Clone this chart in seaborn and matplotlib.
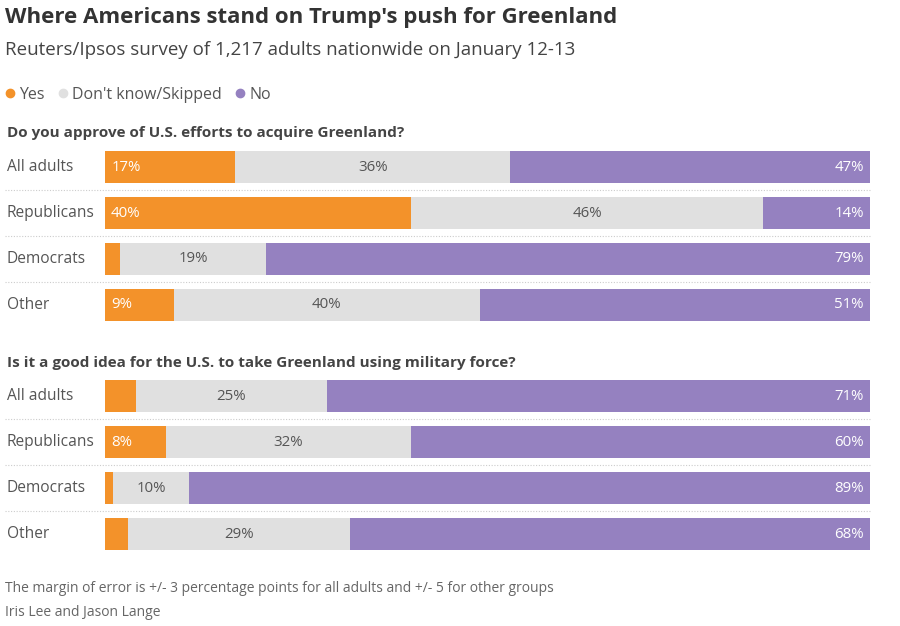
import numpy as np
import pandas as pd
import seaborn as sns
import matplotlib.pyplot as plt
from matplotlib.lines import Line2D
from matplotlib.transforms import blended_transform_factory

sns.set_theme(style="white")
plt.rcParams["font.family"] = ["Open Sans", "DejaVu Sans"]

# --- data ---
groups = ["All adults", "Republicans", "Democrats", "Other"]
q1_title = "Do you approve of U.S. efforts to acquire Greenland?"
q1_yes = [17, 40, 2, 9]
q1_dk = [36, 46, 19, 40]
q1_no = [47, 14, 79, 51]
q2_title = "Is it a good idea for the U.S. to take Greenland using military force?"
q2_yes = [4, 8, 1, 3]
q2_dk = [25, 32, 10, 29]
q2_no = [71, 60, 89, 68]

C_YES = "#F3922A"
C_DK = "#E0E0E0"
C_NO = "#9581C0"
C_TXT = "#555555"

W, H = 900, 626
fig = plt.figure(figsize=(9, 6.26), dpi=100)


def fx(px):
    return px / W


def fy(py):
    return 1 - py / H


def draw_block(top_px, yes, dk, no):
    # axes spans 4 rows of 46px, bars 32px tall
    ax = fig.add_axes([fx(105), fy(top_px + 4 * 46), fx(765), 4 * 46 / H])
    df = pd.DataFrame({"group": groups, "yes": yes, "dk": dk, "no": no})
    df["c_dk"] = df["yes"] + df["dk"]
    df["c_no"] = df["c_dk"] + df["no"]
    kw = dict(orient="h", width=0.70, ax=ax, saturation=1, linewidth=0)
    sns.barplot(data=df, x="c_no", y="group", color=C_NO, **kw)
    sns.barplot(data=df, x="c_dk", y="group", color=C_DK, **kw)
    sns.barplot(data=df, x="yes", y="group", color=C_YES, **kw)
    ax.set_xlim(0, 100)
    ax.set_ylim(3.5, -0.5)
    ax.axis("off")
    tr = blended_transform_factory(fig.transFigure, ax.transData)
    for i, r in df.iterrows():
        ax.text(fx(7), i, r["group"], transform=tr, ha="left", va="center",
                fontsize=11.2, color=C_TXT)
        if r["yes"] >= 8:
            ax.text(0.8, i, f"{r['yes']}%", ha="left", va="center", fontsize=10.8, color="white")
        ax.text(r["yes"] + r["dk"] / 2, i, f"{r['dk']}%", ha="center", va="center",
                fontsize=10.8, color=C_TXT)
        ax.text(r["c_no"] - 0.8, i, f"{r['no']}%", ha="right", va="center",
                fontsize=10.8, color="white")
        if i < len(df) - 1:
            ax.plot([fx(5), fx(870)], [i + 0.5, i + 0.5], transform=tr, color="#cccccc",
                    lw=0.8, ls=(0, (1, 1.5)), clip_on=False)
    return ax


# header
fig.text(fx(5), fy(18), "Where Americans stand on Trump's push for Greenland",
         fontsize=16, fontweight="bold", color="#333333", va="center", ha="left")
fig.text(fx(5), fy(50), "Reuters/Ipsos survey of 1,217 adults nationwide on January 12-13",
         fontsize=13.5, color="#444444", va="center", ha="left")
handles = [Line2D([], [], marker="o", ls="", color=c, markersize=6) for c in (C_YES, C_DK, C_NO)]
fig.legend(handles, ["Yes", "Don't know/Skipped", "No"], loc="center left",
           bbox_to_anchor=(fx(-14), fy(95)), ncol=3, frameon=False, handletextpad=0.0,
           columnspacing=0.5, fontsize=11.5, labelcolor=C_TXT, handlelength=1.2)

fig.text(fx(7), fy(133), q1_title, fontsize=11, fontweight="bold", color="#444444",
         va="center", ha="left")
draw_block(144, q1_yes, q1_dk, q1_no)
fig.text(fx(7), fy(363), q2_title, fontsize=11, fontweight="bold", color="#444444",
         va="center", ha="left")
draw_block(373, q2_yes, q2_dk, q2_no)

fig.text(fx(5), fy(588), "The margin of error is +/- 3 percentage points for all adults and +/- 5 for other groups",
         fontsize=10, color="#666666", va="center", ha="left")
fig.text(fx(5), fy(613), "Iris Lee and Jason Lange", fontsize=10, color="#666666",
         va="center", ha="left")

fig.savefig("out.png", dpi=100, facecolor="white")
